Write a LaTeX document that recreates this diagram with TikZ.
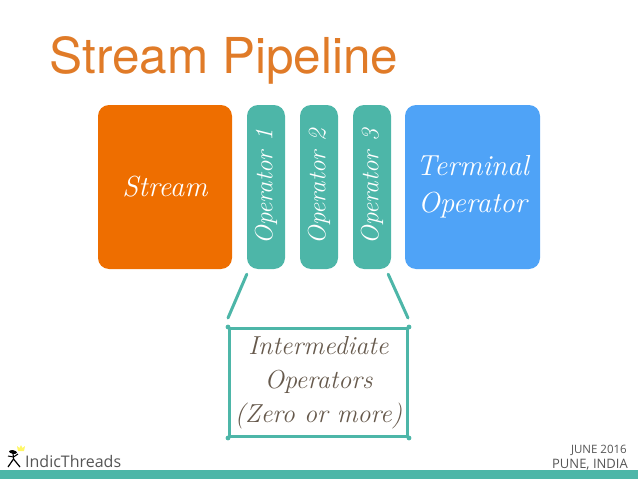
\documentclass[tikz,border=0pt]{standalone}
\usepackage{fontspec}
\usepackage{xcolor}
\usepackage{tikz}
\setsansfont{Open Sans}
\newfontfamily\titlefont{TeX Gyre Heros}
\definecolor{streamorange}{HTML}{EE6E00}
\definecolor{opteal}{HTML}{4DB6A8}
\definecolor{termblue}{HTML}{4FA3F7}
\definecolor{titleorange}{HTML}{E07B28}
\definecolor{notebrown}{HTML}{66594C}
\definecolor{footgrey}{HTML}{555555}
\begin{document}
\begin{tikzpicture}[x=1pt,y=-1pt,
	blockbox/.style={rounded corners=11pt,inner sep=0pt,text=white,align=center,font=\fontsize{29}{37}\selectfont\itshape},
	opbox/.style={blockbox,fill=opteal,minimum width=38pt,minimum height=164pt,font=\fontsize{25}{30}\selectfont\itshape},
	notebox/.style={draw=opteal,line width=3pt,line join=round,inner sep=0pt,minimum width=178pt,minimum height=108pt,align=center,text=notebrown,font=\fontsize{26}{34}\selectfont\itshape},
	noteline/.style={draw=opteal,line width=3pt,line cap=round}]
	\useasboundingbox (0,0) rectangle (638,479);
	\node[anchor=base west,text=titleorange,inner sep=0pt,font=\fontsize{49.5}{60}\titlefont] (title) at (49.5,73) {Stream Pipeline};
	\node[blockbox,fill=streamorange,minimum width=134pt,minimum height=164pt] (stream) at (165,187) {Stream};
	\node[opbox] (op1) at (266,187) {\rotatebox{90}{Operator 1}};
	\node[opbox] (op2) at (319,187) {\rotatebox{90}{Operator 2}};
	\node[opbox] (op3) at (372,187) {\rotatebox{90}{Operator 3}};
	\node[blockbox,fill=termblue,minimum width=135pt,minimum height=164pt] (term) at (472.5,187) {Terminal\\Operator};
	\node[notebox] (note) at (318.5,382.5) {Intermediate\\Operators\\(Zero or more)};
	\coordinate (linea) at ([yshift=9pt]note.north west);
	\coordinate (lineb) at ([xshift=-1pt,yshift=9pt]note.north east);
	\draw[noteline] ([yshift=-5pt]op1.south west) -- (linea);
	\draw[noteline] ([xshift=-3pt,yshift=-5pt]op3.south east) -- (lineb);
	\foreach \c in {north west,north east,south west,south east}
		\fill[opteal] (note.\c) circle (2.4);
	% footer
	\fill[opteal] (0,470) rectangle (638,479);
	\node[anchor=base west,inner sep=0pt,text=footgrey,font=\fontsize{16}{18}\sffamily] (brand) at (25,467) {IndicThreads};
	\node[anchor=base east,inner sep=0pt,text=footgrey,font=\fontsize{11.5}{14}\sffamily] (date) at (627,453) {JUNE 2016};
	\node[anchor=base east,inner sep=0pt,text=footgrey,font=\fontsize{13}{16}\sffamily] (place) at (628,468) {PUNE, INDIA};
	% logo
	\fill[black,rotate around={-10:(13,452)}] (13,452) ellipse (4 and 1.8);
	\draw[black,line width=1.2pt] (13,453) -- (13.5,459) -- (8,467);
	\draw[black,line width=1.2pt] (13.5,459) -- (20,467);
	\draw[black,line width=1pt] (8,456) -- (13.5,457) -- (18,454);
	\fill[yellow!60!white] (18,451) -- (17,446) -- (19.5,448) -- (21,445) -- (22.5,448) -- (25,446) -- (24,451) -- cycle;
\end{tikzpicture}
\end{document}
